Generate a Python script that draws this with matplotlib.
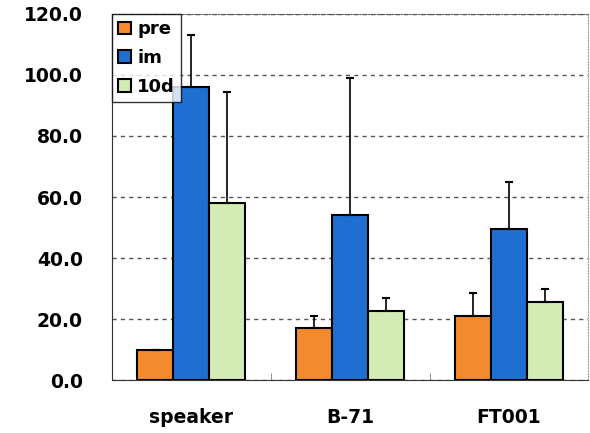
import numpy as np
import matplotlib
matplotlib.use("Agg")
import matplotlib.pyplot as plt

categories = ["speaker", "B-71", "FT001"]
series_names = ["pre", "im", "10d"]
pre_vals = [10.0, 17.0, 21.0]
im_vals = [96.0, 54.0, 49.5]
d10_vals = [58.0, 22.5, 25.5]
pre_err = [0.0, 4.0, 7.5]
im_err = [17.0, 45.0, 15.5]
d10_err = [36.5, 4.5, 4.5]
yticks = [0, 20, 40, 60, 80, 100, 120]

colors = ["#F28A2E", "#1F6FD2", "#D3EBB5"]

plt.rcParams["font.family"] = ["DejaVu Sans"]

fig = plt.figure(figsize=(5.9, 4.33), dpi=100)
ax = fig.add_axes([0.19, 0.122, 0.807, 0.846])

x = np.arange(len(categories))
width = 0.227
vals = [pre_vals, im_vals, d10_vals]
errs = [pre_err, im_err, d10_err]
for i in range(3):
    pos = x + (i - 1) * width
    ax.bar(pos, vals[i], width, color=colors[i], edgecolor="black",
           linewidth=1.5, label=series_names[i], zorder=3)
    ax.errorbar(pos, vals[i], yerr=[np.zeros(3), errs[i]], fmt="none",
                ecolor="black", elinewidth=1.2, capsize=3, capthick=1.5,
                zorder=4)

ax.set_xlim(-0.5, 2.5)
ax.set_ylim(0, 120)
ax.set_yticks(yticks)
ax.set_yticklabels(["%.1f" % v for v in yticks], fontsize=13.5, fontweight="bold")
ax.set_xticks(x)
ax.set_xticklabels(categories, fontsize=13.5, fontweight="bold")
ax.tick_params(axis="y", length=0, pad=21)
ax.tick_params(axis="x", length=0, pad=20)
# small ticks between categories
ax.set_xticks([0.5, 1.5], minor=True)
ax.tick_params(axis="x", which="minor", direction="in", length=5, color="gray")

ax.yaxis.grid(True, linestyle=(0, (3, 3)), color="#555555", linewidth=1.0, zorder=0)
ax.spines["left"].set_color("#333333")
ax.spines["bottom"].set_color("#333333")
ax.spines["top"].set_linestyle(":")
ax.spines["top"].set_color("#555555")
ax.spines["right"].set_linestyle(":")
ax.spines["right"].set_color("#999999")

leg = ax.legend(loc="upper left", bbox_to_anchor=(0.0, 1.0), frameon=True,
                fancybox=False, edgecolor="black",
                prop={"weight": "bold", "size": 13}, handlelength=0.7,
                handleheight=0.7, handletextpad=0.35, borderpad=0.35,
                labelspacing=0.6, borderaxespad=0.0)
leg.get_frame().set_linewidth(1.0)
leg.set_zorder(5)

fig.savefig("out.png", dpi=100)
